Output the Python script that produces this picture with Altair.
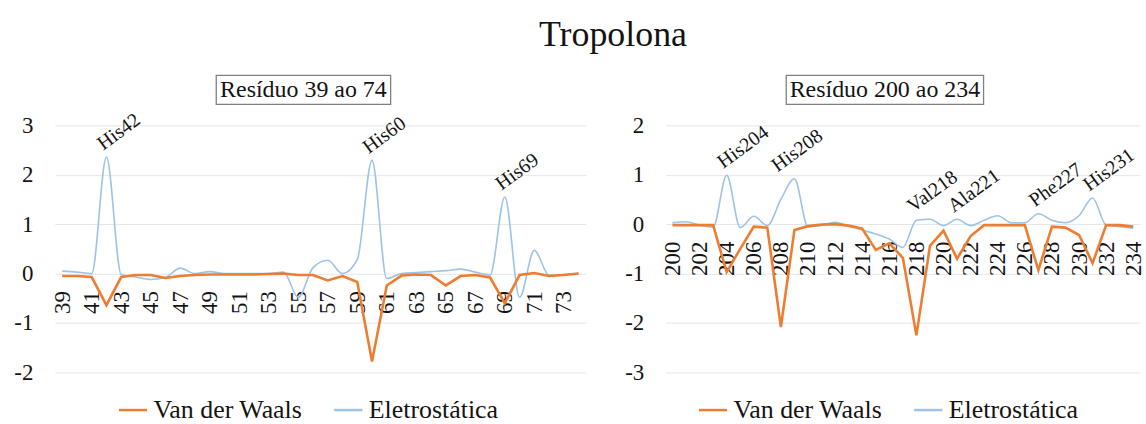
import altair as alt
import pandas as pd

# Residues 39-74: interaction energies per residue
res_a = list(range(39, 75))
vdw_a = [-0.05, -0.05, -0.07, -0.64, -0.07, -0.03, -0.03, -0.09, -0.05, -0.03,
         -0.02, -0.02, -0.02, -0.02, -0.01, 0.0, -0.03, -0.03, -0.14, -0.05,
         -0.17, -1.78, -0.24, -0.04, -0.02, -0.03, -0.24, -0.05, -0.03, -0.08,
         -0.60, -0.03, 0.01, -0.05, -0.03, 0.0]
ele_a = [0.05, 0.03, 0.0, 2.36, -0.02, -0.07, -0.12, -0.08, 0.11, 0.0,
         0.04, 0.0, 0.0, 0.0, 0.0, 0.03, -0.48, 0.12, 0.27, 0.0,
         0.28, 2.29, -0.10, 0.0, 0.02, 0.04, 0.06, 0.09, 0.03, -0.03,
         1.55, -0.48, 0.47, -0.03, -0.02, 0.0]

# Residues 200-234
res_b = list(range(200, 235))
vdw_b = [-0.02, -0.02, -0.02, -0.02, -0.97, -0.50, -0.05, -0.07, -2.08, -0.12,
         -0.04, -0.01, 0.0, -0.03, -0.09, -0.52, -0.39, -0.68, -2.25, -0.44,
         -0.13, -0.70, -0.24, -0.02, -0.02, -0.02, -0.02, -0.93, -0.05, -0.07,
         -0.22, -0.79, -0.02, -0.02, -0.05]
ele_b = [0.03, 0.05, -0.02, -0.06, 0.99, -0.07, 0.16, -0.03, 0.50, 0.92,
         -0.05, -0.02, 0.04, -0.04, -0.12, -0.20, -0.30, -0.47, 0.08, 0.10,
         -0.03, 0.10, -0.03, 0.08, 0.17, 0.03, 0.03, 0.21, 0.08, 0.03,
         0.17, 0.53, -0.02, -0.05, -0.08]

ticks_a = [39, 41, 43, 45, 47, 49, 51, 53, 55, 57, 59, 61, 63, 65, 67, 69, 71, 73]
ticks_b = [200, 202, 204, 206, 208, 210, 212, 214, 216, 218, 220, 222, 224,
           226, 228, 230, 232, 234]

labels_a = ["His42", "His60", "His69"]
label_res_a = [42, 60, 69]
labels_b = ["His204", "His208", "Val218", "Ala221", "Phe227", "His231"]
label_res_b = [204, 208, 218, 221, 227, 231]

series = ["Van der Waals", "Eletrostática"]
colors = ["#ED7D31", "#9DC3E6"]

FONT = "Liberation Serif"
INK = "#141414"
H = 248


def panel(res, vdw, ele, ticks, labels, label_res, ydom, width, title,
          box, legend_x):
    n = len(res)
    long = pd.DataFrame({
        "residuo": res * 2,
        "serie": [series[0]] * n + [series[1]] * n,
        "valor": vdw + ele,
    })
    # labels sit above the local maximum of the electrostatic curve
    anchors = []
    for r in label_res:
        i = res.index(r)
        anchors.append(max(ele[max(i - 1, 0):i + 2]))
    lab = pd.DataFrame({"residuo": label_res, "valor": anchors, "rotulo": labels})

    zero_offset = -H * (0 - ydom[0]) / (ydom[1] - ydom[0])
    x = alt.X("residuo:O", scale=alt.Scale(type="point", padding=0.5),
              axis=alt.Axis(values=ticks, labelAngle=270, labelAlign="right",
                            labelBaseline="middle", labelPadding=17,
                            labelFont=FONT, labelFontSize=23, labelColor=INK,
                            labelOverlap=False, labelBound=False,
                            ticks=False, domain=False, grid=False,
                            offset=zero_offset, title=None))
    y = alt.Y("valor:Q", scale=alt.Scale(domain=ydom, nice=False),
              axis=alt.Axis(values=list(range(ydom[0], ydom[1] + 1)),
                            labelExpr="'' + datum.value",
                            labelFont=FONT, labelFontSize=23, labelColor=INK,
                            labelPadding=22, ticks=False, domain=False,
                            grid=True, gridColor="#e6e6e6", gridWidth=1,
                            minExtent=50, maxExtent=50, title=None))
    color = alt.Color("serie:N", scale=alt.Scale(domain=series, range=colors),
                      legend=alt.Legend(orient="none", legendX=legend_x,
                                        legendY=270, direction="horizontal",
                                        title=None, symbolType="stroke",
                                        symbolSize=800, symbolStrokeWidth=2.5,
                                        labelFont=FONT, labelFontSize=26,
                                        labelColor=INK, labelOffset=5,
                                        columnPadding=26, padding=0))

    ele_line = alt.Chart(long).transform_filter(
        alt.datum.serie == series[1]
    ).mark_line(interpolate="monotone", strokeWidth=1.6).encode(
        x=x, y=y, color=color)
    vdw_line = alt.Chart(long).transform_filter(
        alt.datum.serie == series[0]
    ).mark_line(strokeWidth=2.6).encode(x=x, y=y, color=color)
    tags = alt.Chart(lab).mark_text(
        angle=324, align="left", baseline="alphabetic", dx=1, dy=-7,
        font=FONT, fontSize=20, color=INK
    ).encode(x=x, y=y, text="rotulo:N")

    head = pd.DataFrame({"t": [title]})
    frame = alt.Chart(head).mark_rect(
        fill="white", stroke="#808080", strokeWidth=1.3
    ).encode(x=alt.value(box[0]), x2=alt.value(box[1]),
             y=alt.value(-50), y2=alt.value(-21))
    head_text = alt.Chart(head).mark_text(
        font=FONT, fontSize=24, color=INK, align="center", baseline="middle"
    ).encode(x=alt.value((box[0] + box[1]) / 2), y=alt.value(-35), text="t:N")

    return alt.layer(ele_line, vdw_line, tags, frame, head_text).properties(
        width=width, height=H)


left = panel(res_a, vdw_a, ele_a, ticks_a, labels_a, label_res_a, [-2, 3],
             533, "Resíduo 39 ao 74", (162, 337), 63)
right = panel(res_b, vdw_b, ele_b, ticks_b, labels_b, label_res_b, [-3, 2],
              476, "Resíduo 200 ao 234", (121, 319), 32)

chart = alt.hconcat(left, right, spacing=30).resolve_legend(
    color="independent"
).properties(
    title=alt.TitleParams("Tropolona", font=FONT, fontSize=36,
                          fontWeight="normal", color=INK, anchor="middle",
                          baseline="alphabetic", offset=-7, dx=38),
    padding={"left": 5, "top": 16, "right": 0, "bottom": 0},
).configure_view(stroke=None)

chart.save("out.html", embed_options={"renderer": "svg", "actions": False})
